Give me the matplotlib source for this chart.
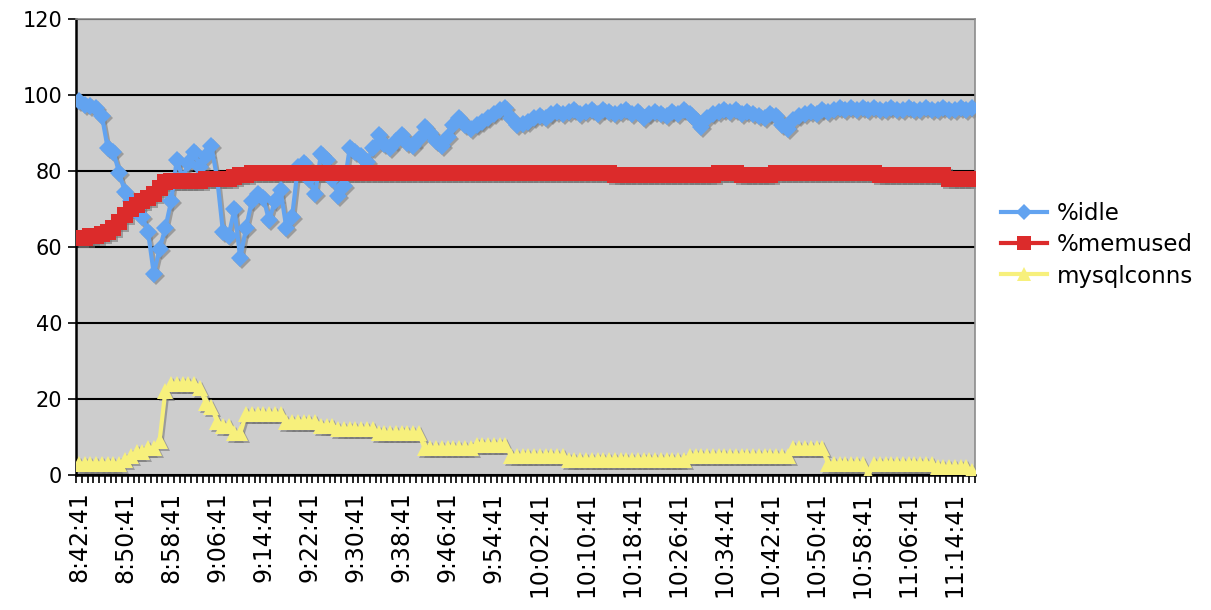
import numpy as np
import matplotlib
matplotlib.use("Agg")
import matplotlib.pyplot as plt
from matplotlib.transforms import ScaledTranslation

# sar / mysql sampling, one point per minute from 8:42:41

time_labels = [
    "8:42:41", "8:50:41", "8:58:41", "9:06:41", "9:14:41", "9:22:41",
    "9:30:41", "9:38:41", "9:46:41", "9:54:41", "10:02:41", "10:10:41",
    "10:18:41", "10:26:41", "10:34:41", "10:42:41", "10:50:41", "10:58:41",
    "11:06:41", "11:14:41"
]
label_step = 8

idle = np.array([
    98.5, 97.5, 97, 96.5, 94.5, 86, 85, 79.5, 74.5, 72,
    70, 68, 64, 53, 59.5, 65, 72, 83, 78, 82,
    85, 81, 84, 86.5, 78, 64, 63, 70, 57, 65,
    72, 74, 73, 67, 72, 75, 65, 68, 81, 82,
    78, 74, 84.5, 83, 78, 73.5, 76, 86, 85, 84,
    82.5, 86, 89.5, 87, 86, 88, 89.5, 87.5, 86.5, 88.5,
    91.5, 90, 88, 86.5, 89, 92, 94, 92, 91, 92,
    93, 94, 95, 96, 96.5, 94, 92, 92.5, 93, 94,
    94.5, 94, 95, 95.5, 95, 95.5, 96, 95, 95.5, 96,
    95, 96, 95.5, 95, 95.5, 96, 95, 95.5, 94, 95,
    95.5, 95, 94.5, 95.5, 95, 96, 95, 93.5, 91.5, 94,
    95, 95.5, 96, 95.5, 96, 95, 95.5, 95, 94.5, 94,
    95, 94.5, 92, 91, 93.5, 94.5, 95, 95.5, 95, 96,
    95.5, 96, 96.5, 96, 96.5, 96, 96.5, 96, 96.5, 96,
    96, 96.5, 96, 96, 96.5, 96, 96, 96.5, 96, 96,
    96.5, 96, 96, 96.5, 96, 96.5
])

memused = np.array([
    62.5, 62.5, 63, 63, 63.5, 64, 65, 66.5, 68.5, 70,
    71, 72, 73, 74, 75.5, 77, 77.5, 77.5, 77.5, 77.5,
    77.5, 77.5, 78, 78, 78, 78, 78, 78.5, 79, 79,
    79.5, 79.5, 79.5, 79.5, 79.5, 79.5, 79.5, 79.5, 79.5, 79.5,
    79.5, 79.5, 79.5, 79.5, 79.5, 79.5, 79.5, 79.5, 79.5, 79.5,
    79.5, 79.5, 79.5, 79.5, 79.5, 79.5, 79.5, 79.5, 79.5, 79.5,
    79.5, 79.5, 79.5, 79.5, 79.5, 79.5, 79.5, 79.5, 79.5, 79.5,
    79.5, 79.5, 79.5, 79.5, 79.5, 79.5, 79.5, 79.5, 79.5, 79.5,
    79.5, 79.5, 79.5, 79.5, 79.5, 79.5, 79.5, 79.5, 79.5, 79.5,
    79.5, 79.5, 79.5, 79, 79, 79, 79, 79, 79, 79,
    79, 79, 79, 79, 79, 79, 79, 79, 79, 79,
    79, 79.5, 79.5, 79.5, 79.5, 79, 79, 79, 79, 79,
    79, 79.5, 79.5, 79.5, 79.5, 79.5, 79.5, 79.5, 79.5, 79.5,
    79.5, 79.5, 79.5, 79.5, 79.5, 79.5, 79.5, 79.5, 79.5, 79,
    79, 79, 79, 79, 79, 79, 79, 79, 79, 79,
    79, 78, 78, 78, 78, 78
])

mysqlconns = np.array([
    3, 3, 3, 3, 3, 3, 3, 3, 4, 5,
    6, 6, 7, 7, 9, 22, 24, 24, 24, 24,
    24, 23, 19, 18, 14, 13, 13, 11, 11, 16,
    16, 16, 16, 16, 16, 16, 14, 14, 14, 14,
    14, 14, 13, 13, 13, 12, 12, 12, 12, 12,
    12, 12, 11, 11, 11, 11, 11, 11, 11, 11,
    7, 7, 7, 7, 7, 7, 7, 7, 7, 8,
    8, 8, 8, 8, 8, 5, 5, 5, 5, 5,
    5, 5, 5, 5, 5, 4, 4, 4, 4, 4,
    4, 4, 4, 4, 4, 4, 4, 4, 4, 4,
    4, 4, 4, 4, 4, 4, 5, 5, 5, 5,
    5, 5, 5, 5, 5, 5, 5, 5, 5, 5,
    5, 5, 5, 5, 7, 7, 7, 7, 7, 7,
    3, 3, 3, 3, 3, 3, 3, 0, 3, 3,
    3, 3, 3, 3, 3, 3, 3, 3, 3, 2,
    2, 2, 2, 2, 2, 1
])

assert len(idle) == len(memused) == len(mysqlconns) == 156

x = np.arange(len(idle))

fig = plt.figure(figsize=(12.11, 6.10), dpi=100)
ax = fig.add_axes([76 / 1211, 135 / 610, 899 / 1211, 456 / 610])
ax.set_facecolor("#cdcdcd")

# sombra tipo Excel
shadow = ax.transData + ScaledTranslation(2 / 100, -2 / 100, fig.dpi_scale_trans)

series = [
    (idle, "%idle", "#62a3f0", "D", 9.5),
    (memused, "%memused", "#dc2b2b", "s", 11.5),
    (mysqlconns, "mysqlconns", "#f7f07c", "^", 12),
]

for vals, lab, col, mk, ms in series:
    ax.plot(x, vals, color="0.45", lw=3, marker=mk, markersize=ms,
            markeredgewidth=0, alpha=0.55, transform=shadow, zorder=2)
    ax.plot(x, vals, color=col, lw=3, marker=mk, markersize=ms,
            markeredgewidth=0, label=lab, zorder=3)

ax.set_xlim(-0.5, len(x) - 0.5)
ax.set_ylim(0, 120)
ax.set_yticks(np.arange(0, 121, 20))
ax.yaxis.grid(True, color="black", lw=1.5)
ax.set_axisbelow(True)

ax.set_xticks(np.arange(len(time_labels)) * label_step)
ax.set_xticklabels(time_labels, rotation=90)
ax.set_xticks(np.arange(len(x) + 1) - 0.5, minor=True)
ax.tick_params(axis="x", which="major", length=0, pad=12, labelsize=17)
ax.tick_params(axis="x", which="minor", length=6, width=1.2, direction="out")
ax.tick_params(axis="y", length=6, width=1.2, pad=4, labelsize=15)

for s in ["top", "right"]:
    ax.spines[s].set_color("#8c8c8c")
    ax.spines[s].set_linewidth(1.2)
for s in ["left", "bottom"]:
    ax.spines[s].set_color("black")
    ax.spines[s].set_linewidth(1.8)

fig.legend(loc="center left", bbox_to_anchor=(990 / 1211, (610 - 245) / 610),
           frameon=False, fontsize=16.5, handlelength=2.0, handletextpad=0.4,
           labelspacing=0.35, borderpad=0, markerscale=0.85)

fig.savefig("out.png", dpi=100)
